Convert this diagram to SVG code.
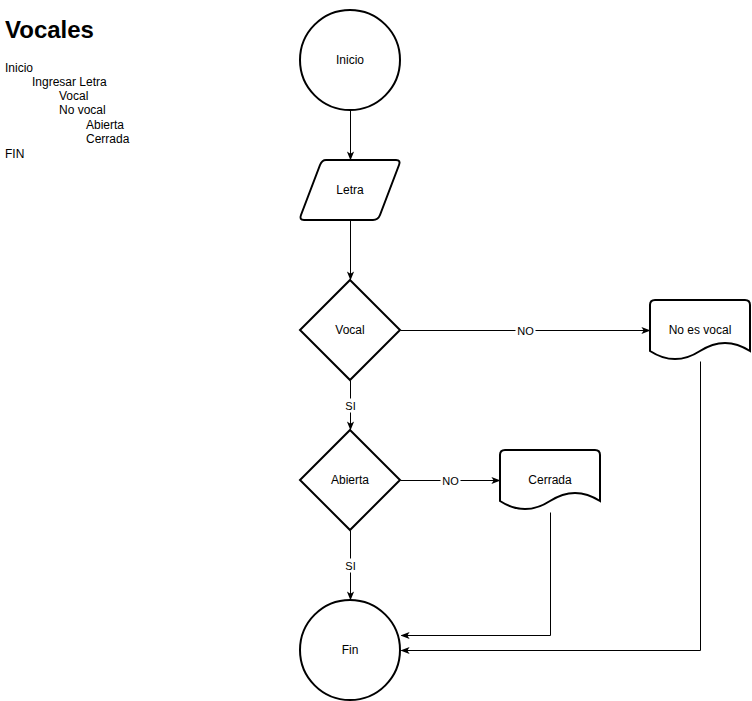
<svg xmlns="http://www.w3.org/2000/svg" width="752" height="701" viewBox="0 0 752 701">
  <style>
    .shape { fill: #ffffff; stroke: #000000; stroke-width: 2; }
    .edge { fill: none; stroke: #000000; stroke-width: 1; }
    .label { font-family: "Liberation Sans", Arial, sans-serif; font-size: 12px; fill: #000000; text-anchor: middle; dominant-baseline: central; }
    .elabel { font-family: "Liberation Sans", Arial, sans-serif; font-size: 11px; fill: #000000; text-anchor: middle; dominant-baseline: central; }
    .note { font-family: "Liberation Sans", Arial, sans-serif; font-size: 12px; fill: #000000; }
    .title { font-family: "Liberation Sans", Arial, sans-serif; font-size: 24px; font-weight: bold; fill: #000000; }
  </style>
  <defs>
    <marker id="arrow" viewBox="0 0 10 10" refX="9" refY="5" markerWidth="9" markerHeight="9" markerUnits="userSpaceOnUse" orient="auto">
      <path d="M0,1 L10,5 L0,9 L2.5,5 Z" fill="#000000"/>
    </marker>
  </defs>
  <rect width="752" height="701" fill="#ffffff"/>

  <!-- Pseudocode outline -->
  <g id="outline">
    <text class="title" x="5" y="38">Vocales</text>
    <text class="note" x="5" y="72">Inicio</text>
    <text class="note" x="32" y="86">Ingresar Letra</text>
    <text class="note" x="59" y="100">Vocal</text>
    <text class="note" x="59" y="114">No vocal</text>
    <text class="note" x="86" y="129">Abierta</text>
    <text class="note" x="86" y="143">Cerrada</text>
    <text class="note" x="5" y="158">FIN</text>
  </g>

  <!-- Connectors (offset half a pixel for crisp 1px lines) -->
  <g id="connectors" transform="translate(0.5,0.5)">
    <path class="edge" d="M350,110 L350,159" marker-end="url(#arrow)"/>
    <path class="edge" d="M350,220 L350,279" marker-end="url(#arrow)"/>
    <path class="edge" d="M400,330 L649,330" marker-end="url(#arrow)"/>
    <path class="edge" d="M350,380 L350,429" marker-end="url(#arrow)"/>
    <path class="edge" d="M400,480 L499,480" marker-end="url(#arrow)"/>
    <path class="edge" d="M350,530 L350,599" marker-end="url(#arrow)"/>
    <path class="edge" d="M550,512 L550,635 L401,635" marker-end="url(#arrow)"/>
    <path class="edge" d="M700,361 L700,650 L401,650" marker-end="url(#arrow)"/>
    <rect x="515" y="323" width="20" height="14" fill="#ffffff"/>
    <text class="elabel" x="525" y="330">NO</text>
    <rect x="342" y="398" width="16" height="14" fill="#ffffff"/>
    <text class="elabel" x="350" y="405">SI</text>
    <rect x="440" y="473" width="20" height="14" fill="#ffffff"/>
    <text class="elabel" x="450" y="480">NO</text>
    <rect x="342" y="558" width="16" height="14" fill="#ffffff"/>
    <text class="elabel" x="350" y="565">SI</text>
  </g>

  <g id="inicio">
    <circle class="shape" cx="350" cy="60" r="50"/>
    <text class="label" x="350" y="60">Inicio</text>
  </g>

  <g id="letra">
    <path class="shape" d="M326,160 L396,160 Q401,160 399,165 L380,215 Q378,220 373,220 L304,220 Q299,220 301,215 L320,165 Q322,160 326,160 Z"/>
    <text class="label" x="350" y="190">Letra</text>
  </g>

  <g id="vocal">
    <path class="shape" d="M350,280 L400,330 L350,380 L300,330 Z"/>
    <text class="label" x="350" y="330">Vocal</text>
  </g>

  <g id="no-es-vocal">
    <path class="shape" d="M655,300 L745,300 Q750,300 750,305 L750,351 Q725,334.8 700,351 Q675,367.2 650,351 L650,305 Q650,300 655,300 Z"/>
    <text class="label" x="700" y="330">No es vocal</text>
  </g>

  <g id="abierta">
    <path class="shape" d="M350,430 L400,480 L350,530 L300,480 Z"/>
    <text class="label" x="350" y="480">Abierta</text>
  </g>

  <g id="cerrada">
    <path class="shape" d="M505,450 L595,450 Q600,450 600,455 L600,501 Q575,484.8 550,501 Q525,517.2 500,501 L500,455 Q500,450 505,450 Z"/>
    <text class="label" x="550" y="480">Cerrada</text>
  </g>

  <g id="fin">
    <circle class="shape" cx="350" cy="650" r="50"/>
    <text class="label" x="350" y="650">Fin</text>
  </g>
</svg>
